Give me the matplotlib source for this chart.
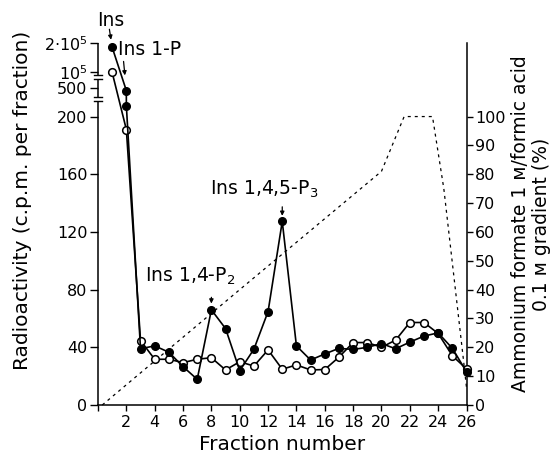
import numpy as np
import matplotlib
matplotlib.use("Agg")
import matplotlib.pyplot as plt
from matplotlib.transforms import blended_transform_factory

# ---------------- data ----------------
filled_x = [1, 2, 2] + list(range(3, 27))
filled_y = [1.85e5, 470, 314,
            39, 41, 36.6, 26.6, 17.8, 66, 53, 23.8, 38.7, 64.8, 127.3, 41,
            31.2, 35.4, 39.3, 38.5, 40, 42.6, 39, 43.6, 47.8, 50, 39.3, 23]

open_x = list(range(1, 27))
open_y = [9.6e4, 191,
          44.7, 31.7, 31.7, 29.4, 31.7, 32.8, 24.3, 30, 27, 38.2, 24.8, 27.8,
          24.3, 24.6, 33.2, 43.3, 43.3, 40, 45, 57.2, 57.2, 49.6, 34.2, 25]

grad_x = [0.3, 10, 20, 21.6, 23.6, 24.4, 25.8, 26]
grad_y = [0, 40, 81, 100, 100, 75, 15, 6]

x_ticks = list(range(0, 27, 2))
x_ticklabels = [""] + [str(v) for v in range(2, 27, 2)]
left_ticks = [0, 40, 80, 120, 160, 200, 500, 1e5, 2e5]
left_ticklabels = ["0", "40", "80", "120", "160", "200", "500",
                   "10$^{5}$", "2·10$^{5}$"]
right_ticks = list(range(0, 101, 10))

# broken-axis scale: data value -> linear-equivalent position
SCALE_VALUES = [0, 200, 500, 1e5, 2e5]
SCALE_POS = [0, 200, 220, 231, 251]


def fwd(v):
    return np.interp(v, SCALE_VALUES, SCALE_POS)


def inv(p):
    return np.interp(p, SCALE_POS, SCALE_VALUES)


plt.rcParams["font.family"] = ["DejaVu Sans"]

fig = plt.figure(figsize=(5.54, 4.61), dpi=100)
ax = fig.add_axes([98 / 554, 1 - 405 / 461, 368.5 / 554, (405 - 43) / 461])
ax2 = ax.twinx()
ax.set_zorder(2)
ax2.set_zorder(1)
ax.patch.set_visible(False)

ax.set_yscale("function", functions=(fwd, inv))
ax.set_xlim(0, 26)
ax.set_ylim(0, 2e5)
ax2.set_ylim(0, SCALE_POS[-1] / 2)

# gradient
ax2.plot(grad_x, grad_y, color="black", lw=0.9, linestyle=(0, (2.4, 3.2)),
         clip_on=False)

# data series
ax.plot(open_x, open_y, color="black", lw=1.2, marker="o", ms=5.5,
        mfc="white", mec="black", mew=1.1, clip_on=False, zorder=3)
ax.plot(filled_x, filled_y, color="black", lw=1.2, marker="o", ms=5.5,
        mfc="black", mec="black", mew=1.0, clip_on=False, zorder=4)

# spines
for s in ["top", "right", "left"]:
    ax.spines[s].set_visible(False)
for s in ["top", "left", "bottom"]:
    ax2.spines[s].set_visible(False)
ax.spines["bottom"].set_linewidth(1.1)
ax2.spines["right"].set_linewidth(1.1)

# broken left spine
trans = blended_transform_factory(ax.transAxes, ax.transData)
gaps = [(211.1, 213.9), (225.7, 228.5)]
seg_bounds = [0] + [p for g in gaps for p in g] + [SCALE_POS[-1]]
for i in range(0, len(seg_bounds), 2):
    ax.plot([0, 0], [inv(seg_bounds[i]), inv(seg_bounds[i + 1])],
            transform=trans, color="black", lw=1.1, clip_on=False,
            solid_capstyle="butt")
for g in gaps:
    for p in g:
        ax.plot([-0.012, 0.012], [inv(p), inv(p)], transform=trans,
                color="black", lw=1.0, clip_on=False)

# ticks
ax.set_xticks(x_ticks)
ax.set_xticklabels(x_ticklabels)
ax.set_yticks(left_ticks)
ax.set_yticklabels(left_ticklabels)
ax.yaxis.set_minor_locator(matplotlib.ticker.NullLocator())
ax2.set_yticks(right_ticks)
ax.tick_params(axis="x", direction="out", length=4, width=1.0,
               labelsize=11.5, pad=3)
ax.tick_params(axis="y", direction="out", length=5.5, width=1.0,
               labelsize=11.5, pad=2)
ax2.tick_params(axis="y", direction="out", length=4, width=1.0,
                labelsize=11.5, pad=2)

# labels
ax.set_xlabel("Fraction number", fontsize=14.5, labelpad=4)
ax.set_ylabel("Radioactivity (c.p.m. per fraction)", fontsize=14.5)
ax.yaxis.set_label_coords(-0.18, 0.565)
ax2.set_ylabel("Ammonium formate 1 м/formic acid\n0.1 м gradient (%)",
               fontsize=13.5, labelpad=4, linespacing=1.15)

# annotations
ann_kw = dict(textcoords="offset points", fontsize=13.5,
              annotation_clip=False)
arrow_kw = dict(arrowstyle="-|>", lw=0.9, color="black", mutation_scale=6,
                shrinkA=0)

ax.annotate("Ins", xy=(1, filled_y[0]), xytext=(-11, 19), ha="left",
            va="center", **ann_kw)
ax.annotate("", xy=(1, filled_y[0]), xytext=(-2, 13), textcoords="offset points",
            annotation_clip=False, arrowprops=dict(shrinkB=5.5, **arrow_kw))

ax.annotate("Ins 1-P", xy=(2, filled_y[1]), xytext=(-6, 29.5), ha="left",
            va="center", **ann_kw)
ax.annotate("", xy=(2, filled_y[1]), xytext=(-2, 21), textcoords="offset points",
            annotation_clip=False, arrowprops=dict(shrinkB=11, **arrow_kw))

ax.annotate("Ins 1,4-P$_2$", xy=(8, filled_y[8]), xytext=(-15, 24),
            ha="center", va="center", **ann_kw)
ax.annotate("", xy=(8, filled_y[8]), xytext=(0, 9), textcoords="offset points",
            annotation_clip=False, arrowprops=dict(shrinkB=4.5, **arrow_kw))

ax.annotate("Ins 1,4,5-P$_3$", xy=(13, filled_y[13]), xytext=(-13, 23),
            ha="center", va="center", **ann_kw)
ax.annotate("", xy=(13, filled_y[13]), xytext=(0, 10.5), textcoords="offset points",
            annotation_clip=False, arrowprops=dict(shrinkB=4, **arrow_kw))

fig.savefig("out.png", dpi=100)
